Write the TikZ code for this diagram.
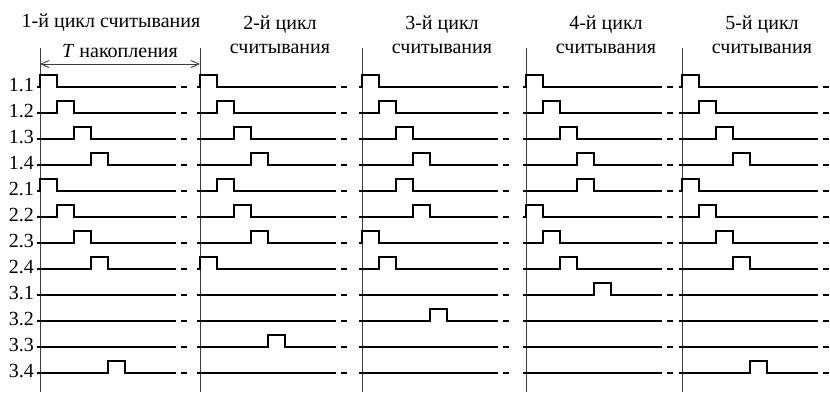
\documentclass[tikz,border=0pt]{standalone}
\usepackage{fontspec}
\setmainfont{Liberation Serif}
\usetikzlibrary{calc, arrows.meta}
\definecolor{grid}{RGB}{60,60,60}

\begin{document}
\begin{tikzpicture}[x=1pt, y=-1pt,
    sig/.style={line width=1.5pt},
    cyc/.style={grid, line width=0.9pt},
    txt/.style={font=\fontsize{20}{24}\selectfont, inner sep=0pt, align=center}]
  \useasboundingbox (0,0) rectangle (830,392);
  % cycle boundaries
  \foreach \cx [count=\k] in {40,200,362,526,682}
    \draw[cyc] (\cx,48) coordinate (top\k) -- (\cx,392);
  % headers
  \node[txt] (h1) at (111,23) {1-й цикл считывания};
  \foreach \cx [count=\k from 2] in {200,362,526,682}
    \node[txt] (h\k) at (\cx+80,35) {\k-й цикл\\считывания};
  % T accumulation
  \draw[cyc, {Straight Barb[length=8pt,width=7pt]}-{Straight Barb[length=8pt,width=7pt]}]
    ($(top1)+(0,16)$) -- ($(top2)+(0,16)$);
  \node[txt] (tacc) at (120,51) {\textit{T} накопления};
  % rows: label / pulse slot in each cycle (-1 = no pulse)
  \foreach \lab/\slots [count=\r from 0] in {1.1/{0,0,0,0,0}, 1.2/{1,1,1,1,1},
      1.3/{2,2,2,2,2}, 1.4/{3,3,3,3,3}, 2.1/{0,1,2,3,0}, 2.2/{1,2,3,0,1},
      2.3/{2,3,0,1,2}, 2.4/{3,0,1,2,3}, 3.1/{-1,-1,-1,4,-1}, 3.2/{-1,-1,4,-1,-1},
      3.3/{-1,4,-1,-1,-1}, 3.4/{4,-1,-1,-1,4}} {
    \pgfmathsetmacro\y{87+26*\r}
    \node[txt, anchor=east] (r\r) at (34,\y-2) {\lab};
    \foreach \s [count=\k] in \slots {
      \pgfmathsetmacro\cx{{40,200,362,526,682}[\k-1]}
      \ifnum\s<0
        \draw[sig] (\cx-3.5,\y) -- (\cx+136,\y);
      \else
        \draw[sig] (\cx-3.5,\y) -- ++(3.5+17*\s,0) -- ++(0,-12) -- ++(17,0)
          -- ++(0,12) -- (\cx+136,\y);
      \fi
      \draw[sig] (\cx+141,\y) -- (\cx+147,\y);
    }
  }
\end{tikzpicture}
\end{document}
